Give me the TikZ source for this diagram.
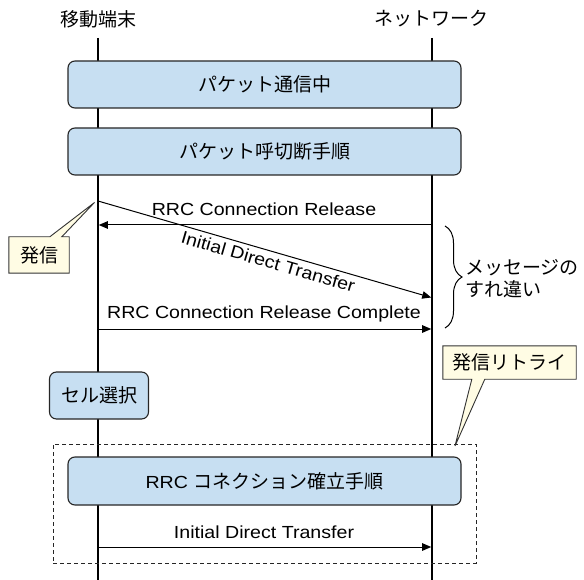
\documentclass[tikz,border=0pt]{standalone}
\usepackage{fontspec}
\setmainfont{Liberation Sans}[FakeStretch=1.12]
\newfontfamily\jpfam{Noto Sans CJK JP}
\usetikzlibrary{arrows.meta,decorations.pathreplacing,calc}
\definecolor{boxblue}{RGB}{199,223,242}
\definecolor{noteyellow}{RGB}{255,252,228}
\newcommand\latfont{\fontsize{17.5}{21}\selectfont}
\newcommand\jtext[1]{{\fontsize{19}{22}\selectfont\jpfam #1}}
\begin{document}
\begin{tikzpicture}[x=1pt,y=-1pt,
  lifeline/.style={line width=1.3pt,draw=black},
  pbox/.style={draw=black!85,line width=1.1pt,fill=boxblue,rounded corners=7pt,inner sep=0pt,font=\latfont},
  msg/.style={line width=1pt,-{Triangle[length=9pt,width=7.5pt]}},
  lbl/.style={inner sep=0pt,font=\latfont},
  hdr/.style={inner sep=0pt},
  note/.style={draw=black!80,line width=0.9pt,fill=noteyellow,line join=miter},
  grpbox/.style={draw=black!85,line width=0.9pt,dashed,dash pattern=on 4pt off 3pt,inner sep=0pt}]
\useasboundingbox (0,0) rectangle (584,580);

% headers
\node[hdr] (hL) at (98,19) {\jtext{移動端末}};
\node[hdr] (hR) at (431,19) {\jtext{ネットワーク}};

% lifelines
\coordinate (Ltop) at (98,38);
\coordinate (Lbot) at (98,580);
\coordinate (Rtop) at (432,38);
\coordinate (Rbot) at (432,580);
\draw[lifeline] (Ltop) -- (Lbot);
\draw[lifeline] (Rtop) -- (Rbot);

% dashed group
\node[grpbox,minimum width=423,minimum height=119] (grp) at (264.5,503.5) {};

% process boxes
\node[pbox,minimum width=393,minimum height=47] (b1) at (264.5,84.5) {\jtext{パケット通信中}};
\node[pbox,minimum width=393,minimum height=47] (b2) at (264.5,151.5) {\jtext{パケット呼切断手順}};
\node[pbox,minimum width=99,minimum height=47] (cell) at (99,395.5) {\jtext{セル選択}};
\node[pbox,minimum width=393,minimum height=48] (b3) at (264.5,481) {RRC \jtext{コネクション確立手順}};

% messages
\coordinate (m1R) at (432,225);
\coordinate (m1L) at (98.8,225);
\draw[msg] (m1R) -- (m1L);
\node[lbl] (l1) at (264,209) {RRC Connection Release};

\coordinate (m2L) at (98,201);
\coordinate (m2R) at (431.2,297.5);
\draw[msg] (m2L) -- node[lbl,sloped,below=4pt,pos=0.52] (l2) {Initial Direct Transfer} (m2R);

\coordinate (m3L) at (98,329);
\coordinate (m3R) at (431.2,329);
\draw[msg] (m3L) -- (m3R);
\node[lbl] (l3) at (264,314) {RRC Connection Release Complete};

\coordinate (m4L) at (98,547);
\coordinate (m4R) at (431.2,547);
\draw[msg] (m4L) -- (m4R);
\node[lbl] (l4) at (264,532.5) {Initial Direct Transfer};

% brace
\coordinate (brT) at (445,226);
\coordinate (brB) at (445,328);
\draw[line width=1pt,decorate,decoration={brace,amplitude=17pt}] (brT) -- (brB);
\node[hdr,anchor=west,align=left,font=\fontsize{19}{21.5}\selectfont\jpfam] (brl) at (465,278.5) {メッセージの\\すれ違い};

% callout 1
\node[hdr,minimum width=60,minimum height=36] (c1) at (39,255) {};
\coordinate (t1) at (94.5,202.5);
\draw[note] (c1.north west) -- ($(c1.north west)+(41,0)$) -- (t1) -- ($(c1.north west)+(53,0)$) -- (c1.north east) -- (c1.south east) -- (c1.south west) -- cycle;
\node[hdr] at (c1) {\jtext{発信}};

% callout 2
\node[hdr,minimum width=133,minimum height=33] (c2) at (509.5,362.5) {};
\coordinate (t2) at (455,446);
\draw[note] (c2.north west) -- (c2.north east) -- (c2.south east) -- ($(c2.south west)+(42,0)$) -- (t2) -- ($(c2.south west)+(29,0)$) -- (c2.south west) -- cycle;
\node[hdr] at (c2) {\jtext{発信リトライ}};
\end{tikzpicture}
\end{document}
